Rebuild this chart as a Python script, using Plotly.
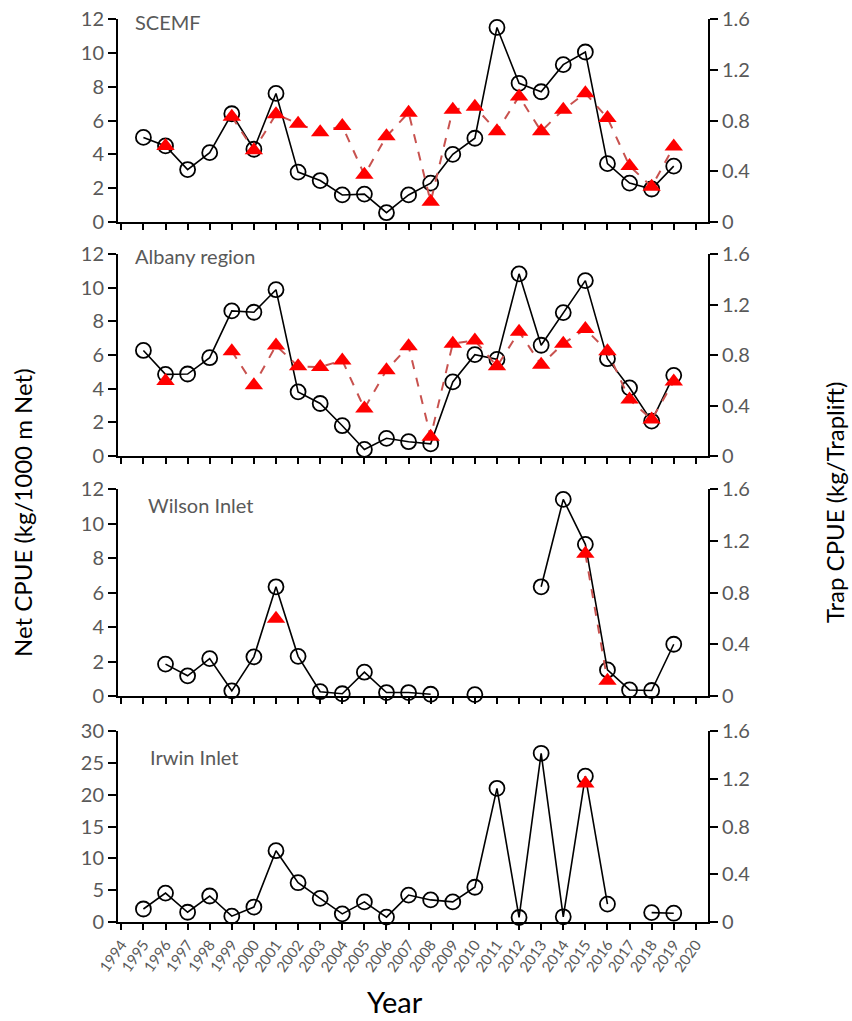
import plotly.graph_objects as go

years = list(range(1995, 2020))
all_ticks = list(range(1994, 2021))

# Net CPUE (kg/1000 m Net) - left axis
scemf_net = [5.0, 4.5, 3.1, 4.1, 6.4, 4.3, 7.6, 2.95, 2.45, 1.6, 1.65, 0.55, 1.6, 2.3,
             4.0, 4.95, 11.5, 8.2, 7.7, 9.3, 10.05, 3.45, 2.3, 1.95, 3.3]
albany_net = [6.27, 4.85, 4.87, 5.84, 8.62, 8.54, 9.88, 3.81, 3.12, 1.8, 0.39, 1.05, 0.85,
              0.72, 4.4, 6.02, 5.74, 10.82, 6.58, 8.52, 10.42, 5.78, 4.05, 2.07, 4.79]
wilson_net = [None, 1.85, 1.17, 2.17, 0.3, 2.27, 6.33, 2.3, 0.25, 0.13, 1.38, 0.2, 0.2,
              0.1, None, 0.08, None, None, 6.33, 11.4, 8.79, 1.51, 0.35, 0.32, 3.0]
irwin_net = [2.04, 4.54, 1.53, 4.08, 0.92, 2.35, 11.2, 6.17, 3.72, 1.28, 3.16, 0.77, 4.23,
             3.47, 3.16, 5.46, 21.0, 0.71, 26.5, 0.82, 22.9, 2.81, None, 1.48, 1.38]

# Trap CPUE (kg/Traplift) - right axis
scemf_trap = [None, 0.6, None, None, 0.83, 0.565, 0.85, 0.775, 0.708, 0.757, 0.372, 0.675,
              0.862, 0.16, 0.885, 0.908, 0.715, 0.99, 0.715, 0.885, 1.015, 0.82, 0.442,
              0.278, 0.595]
albany_trap = [None, 0.595, None, None, 0.83, 0.56, 0.875, 0.71, 0.705, 0.757, 0.376, 0.68,
               0.87, 0.153, 0.89, 0.915, 0.71, 0.985, 0.722, 0.89, 1.005, 0.83, 0.447,
               0.29, 0.59]
wilson_trap = [None, None, None, None, None, None, 0.597, None, None, None, None, None, None,
               None, None, None, None, None, None, None, 1.1, 0.118, None, None, None]
irwin_trap = [None] * 20 + [1.16] + [None] * 4

panels = [
    ("SCEMF", scemf_net, scemf_trap, 12, 2),
    ("Albany region", albany_net, albany_trap, 12, 2),
    ("Wilson Inlet", wilson_net, wilson_trap, 12, 2),
    ("Irwin Inlet", irwin_net, irwin_trap, 30, 5),
]

W, H = 852, 1021
x0, x1 = 118 / W, 708 / W
# (top px, bottom px) of each panel
rows_px = [(19, 222), (254, 456), (489, 696), (731, 922)]
title_pos = [(133, 22), (133, 256), (146, 505), (148, 757)]

FONT = "Lato"
GRAY = "#595959"

fig = go.Figure()
layout = dict(
    width=W, height=H,
    margin=dict(l=0, r=0, t=0, b=0),
    paper_bgcolor="white", plot_bgcolor="white",
    showlegend=False,
    font=dict(family=FONT, color=GRAY, size=17),
)
annotations = []

for i, (name, net, trap, ymax, dt) in enumerate(panels):
    k = i + 1
    xa = "x" if k == 1 else f"x{k}"
    yl_id = 2 * k - 1
    yr_id = 2 * k
    yl = "y" if yl_id == 1 else f"y{yl_id}"
    yr = f"y{yr_id}"
    top, bot = rows_px[i]
    dom = [1 - bot / H, 1 - top / H]

    fig.add_trace(go.Scatter(
        x=years, y=net, xaxis=xa, yaxis=yl, mode="lines+markers",
        line=dict(color="black", width=1.6),
        marker=dict(symbol="circle-open", size=15, color="black", line=dict(width=1.8)),
        connectgaps=False, cliponaxis=False, name=name + " net",
    ))
    fig.add_trace(go.Scatter(
        x=years, y=trap, xaxis=xa, yaxis=yr, mode="lines+markers",
        line=dict(color="#C8524F", width=2, dash="dash"),
        marker=dict(symbol="triangle-up", size=16, color="#FF0000"),
        connectgaps=False, cliponaxis=False, name=name + " trap",
    ))

    xkey = "xaxis" if k == 1 else f"xaxis{k}"
    layout[xkey] = dict(
        domain=[x0, x1], range=[1993.85, 2020.55], anchor=yl,
        tickmode="array", tickvals=all_ticks, ticktext=[str(t) for t in all_ticks],
        ticks="outside", ticklen=6, tickwidth=1.5, tickcolor="black",
        showline=True, linewidth=2, linecolor="black",
        showgrid=False, zeroline=False, automargin=False,
        showticklabels=(k == 4), tickangle=-55,
        tickfont=dict(size=15, color=GRAY, family=FONT),
    )
    ylkey = "yaxis" if yl_id == 1 else f"yaxis{yl_id}"
    layout[ylkey] = dict(
        domain=dom, range=[0, ymax], dtick=dt, tick0=0, anchor=xa,
        ticks="outside", ticklen=8, tickwidth=1.5, tickcolor="black",
        showline=True, linewidth=2, linecolor="black",
        showgrid=False, zeroline=False, automargin=False,
        tickfont=dict(size=20, color=GRAY, family=FONT),
    )
    layout[f"yaxis{yr_id}"] = dict(
        overlaying=yl, side="right", anchor=xa, range=[0, 1.6], dtick=0.4, tick0=0,
        ticks="outside", ticklen=8, tickwidth=1.5, tickcolor="black",
        showline=True, linewidth=2, linecolor="black",
        showgrid=False, zeroline=False, automargin=False,
        tickfont=dict(size=20, color=GRAY, family=FONT),
    )
    tx, ty = title_pos[i]
    annotations.append(dict(
        text=name, x=tx / W, y=1 - ty / H, xref="paper", yref="paper",
        xanchor="left", yanchor="middle", showarrow=False,
        font=dict(size=20, color=GRAY, family=FONT),
    ))

annotations.append(dict(
    text="Net CPUE (kg/1000 m Net)", x=22 / W, y=1 - 513 / H, xref="paper", yref="paper",
    textangle=-90, showarrow=False, xanchor="center", yanchor="middle",
    font=dict(size=24, color="black", family=FONT),
))
annotations.append(dict(
    text="Trap CPUE (kg/Traplift)", x=834 / W, y=1 - 503 / H, xref="paper", yref="paper",
    textangle=-90, showarrow=False, xanchor="center", yanchor="middle",
    font=dict(size=24, color="black", family=FONT),
))
annotations.append(dict(
    text="Year", x=395 / W, y=1 - 1001 / H, xref="paper", yref="paper",
    showarrow=False, xanchor="center", yanchor="middle",
    font=dict(size=29, color="black", family=FONT),
))
layout["annotations"] = annotations
fig.update_layout(**layout)
fig.write_html(
    "out.html",
    config={"displayModeBar": False},
    post_script="document.body.style.margin='0';document.body.style.overflow='hidden';",
)
